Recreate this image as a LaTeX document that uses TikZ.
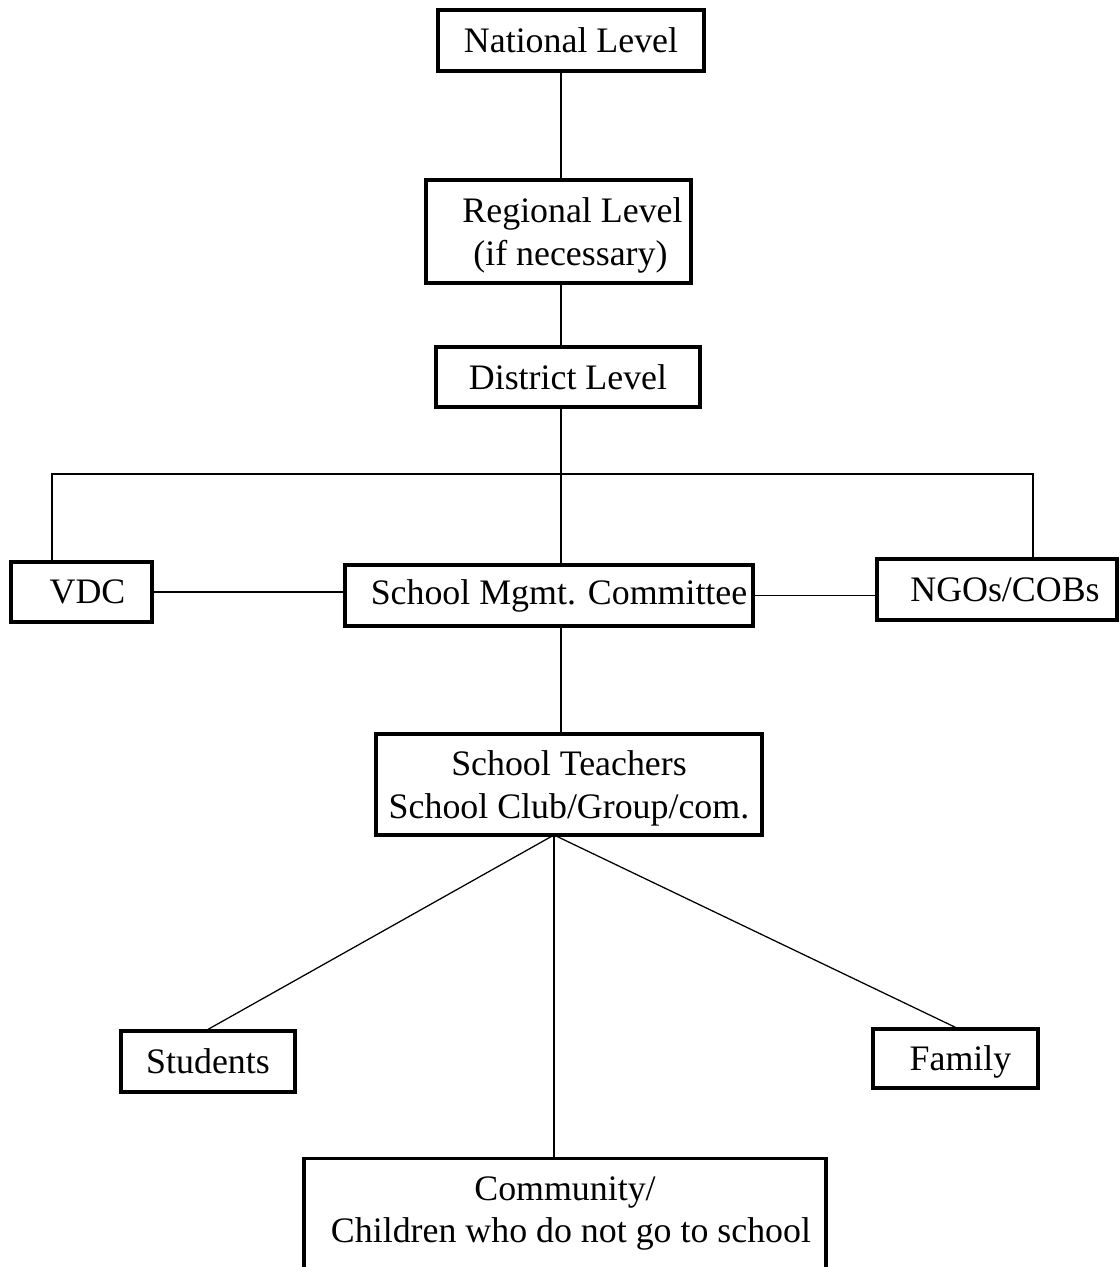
\documentclass[tikz,border=0pt]{standalone}
\usepackage{fontspec}
\setmainfont{Liberation Serif}

\begin{document}
\begin{tikzpicture}[x=0.025cm,y=-0.025cm,
   every node/.style={font=\fontsize{25.5}{30}\selectfont},
   box/.style={draw,line width=2.3pt,inner sep=0pt,align=center},
   link/.style={line width=0.9pt}]
   \useasboundingbox (0,0) rectangle (1119,1267);
   \clip (0,0) rectangle (1119,1267);
   \node[box,minimum width=6.65cm,minimum height=1.525cm] (nat) at (571,40.5) {National Level};
   \node[box,minimum width=6.625cm,minimum height=2.575cm,text depth=0pt] (reg) at (558.5,231.5) {\hspace*{0.7cm}Regional Level\\\hspace*{0.6cm}(if necessary)};
   \node[box,minimum width=6.6cm,minimum height=1.5cm] (dist) at (568,377) {District Level};
   \node[box,minimum width=3.525cm,minimum height=1.5cm] (vdc) at (81.5,592) {\hspace*{0.3cm}VDC};
   \node[box,minimum width=10.2cm,minimum height=1.525cm] (smc) at (549,595.5) {\hspace*{0.5cm}School Mgmt. Committee};
   \node[box,minimum width=6cm,minimum height=1.525cm,text depth=0pt] (ngo) at (997,589.5) {\hspace*{0.4cm}NGOs/COBs};
   \node[box,minimum width=9.65cm,minimum height=2.525cm,text depth=0pt] (teach) at (569,784.5) {School Teachers\\School Club/Group/com.};
   \node[box,minimum width=4.35cm,minimum height=1.525cm] (stud) at (208,1061.5) {Students};
   \node[box,minimum width=4.125cm,minimum height=1.475cm,text depth=0pt] (fam) at (955.5,1058.5) {\hspace*{0.25cm}Family};
   \node[box,minimum width=13.05cm,anchor=north,inner ysep=12.6pt,text depth=2cm] (comm) at (565,1157) {Community/\\\hspace*{0.3cm}Children who do not go to school};
   \coordinate (spine) at (561,0);
   \coordinate (barL) at (52,474);
   \coordinate (barR) at (1033,474);
   \coordinate (fork) at (554,835);
   \draw[link] (spine |- nat.south) -- (spine |- reg.north);
   \draw[link] (spine |- reg.south) -- (spine |- dist.north);
   \draw[link] (spine |- dist.south) -- (spine |- smc.north);
   \draw[link] (barL |- vdc.north) -- (barL) -- (barR) -- (barR |- ngo.north);
   \draw[link] (vdc.east) -- (vdc.east -| smc.west);
   \draw[link] (smc.east) -- (smc.east -| ngo.west);
   \draw[link] (spine |- smc.south) -- (spine |- teach.north);
   \draw[link] (fork) -- (stud.north);
   \draw[link] (fork) -- (fam.north);
   \draw[link] (fork) -- (fork |- comm.north);
\end{tikzpicture}
\end{document}
